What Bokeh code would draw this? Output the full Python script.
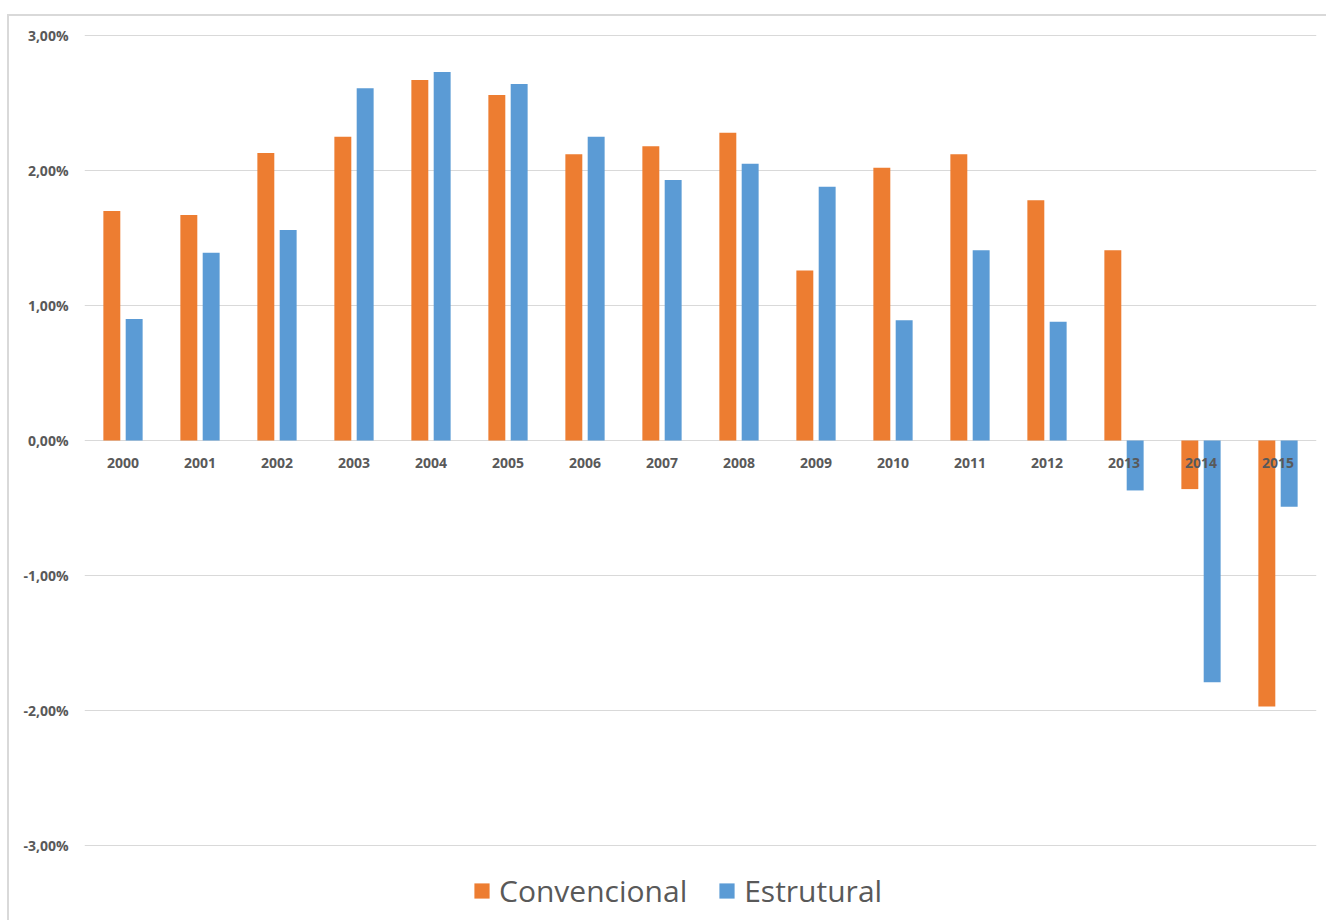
from bokeh.plotting import figure
from bokeh.models import (ColumnDataSource, CustomJSTickFormatter, FixedTicker,
                          Legend, LegendItem, Range1d)
from bokeh.core.properties import value
from bokeh.embed import file_html
from bokeh.resources import INLINE

# Annual values, in percent
years = ["2000", "2001", "2002", "2003", "2004", "2005", "2006", "2007",
         "2008", "2009", "2010", "2011", "2012", "2013", "2014", "2015"]
convencional = [1.70, 1.67, 2.13, 2.25, 2.67, 2.56, 2.12, 2.18,
                2.28, 1.26, 2.02, 2.12, 1.78, 1.41, -0.36, -1.97]
estrutural = [0.90, 1.39, 1.56, 2.61, 2.73, 2.64, 2.25, 1.93,
              2.05, 1.88, 0.89, 1.41, 0.88, -0.37, -1.79, -0.49]
y_ticks = [-3, -2, -1, 0, 1, 2, 3]

ORANGE = "#ED7D31"
BLUE = "#5B9BD5"
GREY = "#595959"
FONT = "Open Sans"

idx = list(range(len(years)))
src = ColumnDataSource(dict(
    x=idx,
    x_conv=[i - 0.145 for i in idx],
    x_estr=[i + 0.145 for i in idx],
    conv=convencional,
    estr=estrutural,
    label=years,
    zero=[0] * len(years),
))

# the frame reaches the bottom edge so the legend can sit inside it
p = figure(width=1326, height=920, output_backend="svg", toolbar_location=None,
           x_range=Range1d(-0.5, len(years) - 0.5),
           y_range=Range1d(-3 - 75 / 135, 3 + 1 / 135),
           min_border_left=84, min_border_right=10, min_border_top=34,
           min_border_bottom=0)
p.outline_line_color = None
p.background_fill_color = "white"
p.border_fill_alpha = 0
# thin light frame around the chart area, drawn by the page behind the canvas
p.styles = {
    "background": ("linear-gradient(#d9d9d9, #d9d9d9) 7px 14px / 2px 100% no-repeat, "
                   "linear-gradient(#d9d9d9, #d9d9d9) 7px 14px / 100% 2px no-repeat, "
                   "white"),
}

p.xgrid.visible = False
p.ygrid.grid_line_color = "#d9d9d9"
p.ygrid.grid_line_width = 1
p.xaxis.visible = False

p.yaxis.ticker = FixedTicker(ticks=y_ticks)
p.yaxis.formatter = CustomJSTickFormatter(
    code="return tick.toFixed(2).replace('.', ',') + '%';")
p.yaxis.axis_line_color = None
p.yaxis.major_tick_line_color = None
p.yaxis.minor_tick_line_color = None
p.yaxis.major_label_text_font = FONT
p.yaxis.major_label_text_font_style = "bold"
p.yaxis.major_label_text_font_size = "14px"
p.yaxis.major_label_text_color = GREY
p.yaxis.major_label_standoff = 10

r_conv = p.vbar(x="x_conv", top="conv", bottom=0, width=0.22, source=src,
                fill_color=ORANGE, line_color=None)
r_estr = p.vbar(x="x_estr", top="estr", bottom=0, width=0.22, source=src,
                fill_color=BLUE, line_color=None)

# year labels sit just under the zero line
p.text(x="x", y="zero", text="label", source=src, text_align="center",
       text_baseline="middle", y_offset=22, text_font=value(FONT),
       text_font_style="bold", text_font_size="14px", text_color=GREY)

legend = Legend(items=[LegendItem(label="Convencional", renderers=[r_conv]),
                       LegendItem(label="Estrutural", renderers=[r_estr])],
                orientation="horizontal", location=(388, 9),
                label_text_font=FONT, label_text_font_size="30px",
                label_text_color=GREY, glyph_width=19, glyph_height=19,
                spacing=30, label_standoff=8, border_line_color=None,
                background_fill_alpha=0, padding=0, margin=0)
p.add_layout(legend, "center")

open("out.html", "w").write(file_html(p, INLINE))
